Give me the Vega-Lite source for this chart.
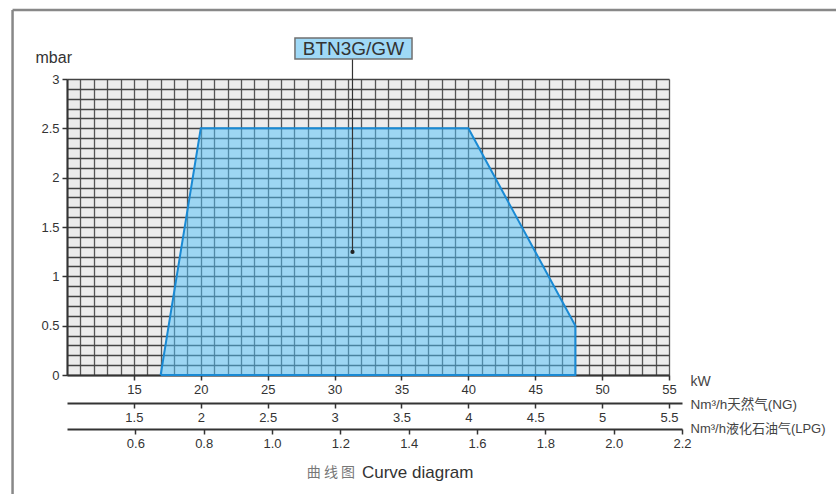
{
  "$schema": "https://vega.github.io/schema/vega-lite/v6.json",
  "width": 602,
  "height": 296,
  "autosize": "none",
  "padding": {"left": 67, "top": 79, "right": 167, "bottom": 119},
  "background": "white",
  "config": {
    "view": {"fill": "#ececec", "stroke": null},
    "font": "Liberation Sans, Noto Sans CJK SC"
  },
  "layer": [
    {
      "encoding": {
        "x": {
          "field": "kw", "type": "quantitative",
          "scale": {"domain": [10, 55], "nice": false, "zero": false},
          "axis": {
            "orient": "bottom",
            "values": [10,11,12,13,14,15,16,17,18,19,20,21,22,23,24,25,26,27,28,29,30,31,32,33,34,35,36,37,38,39,40,41,42,43,44,45,46,47,48,49,50,51,52,53,54,55],
            "grid": true,
            "gridColor": "#555555",
            "gridWidth": 1.3,
            "tickSize": {"condition": {"test": "datum.value % 5 === 0 && datum.value > 10", "value": 5}, "value": 0},
            "tickColor": "#333",
            "tickWidth": 1.5,
            "domainColor": "#333",
            "domainWidth": 2,
            "labelExpr": "datum.value % 5 === 0 && datum.value > 10 ? datum.label : ''",
            "format": "d",
            "labelFontSize": 13,
            "labelColor": "#333",
            "labelPadding": 3,
            "labelFlush": false,
            "labelOverlap": false,
            "title": "kW",
            "titleX": 623,
            "titleY": 6,
            "titleAlign": "left",
            "titleBaseline": "middle",
            "titleFontSize": 14,
            "titleFontWeight": "normal",
            "titleColor": "#444"
          }
        },
        "y": {
          "field": "mbar", "type": "quantitative",
          "scale": {"domain": [0, 3], "nice": false},
          "axis": {
            "values": [0,0.1,0.2,0.3,0.4,0.5,0.6,0.7,0.8,0.9,1,1.1,1.2,1.3,1.4,1.5,1.6,1.7,1.8,1.9,2,2.1,2.2,2.3,2.4,2.5,2.6,2.7,2.8,2.9,3],
            "grid": true,
            "gridColor": "#444444",
            "gridWidth": 1.3,
            "tickSize": {"condition": {"test": "abs(datum.value*2 - round(datum.value*2)) < 0.001", "value": 5}, "value": 0},
            "tickColor": "#333",
            "tickWidth": 1.5,
            "domainColor": "#333",
            "domainWidth": 2,
            "format": ".2~f",
            "labelExpr": "abs(datum.value*2 - round(datum.value*2)) < 0.001 ? datum.label : ''",
            "labelFontSize": 13,
            "labelColor": "#333",
            "labelPadding": 3,
            "labelFlush": false,
            "labelOverlap": false,
            "title": "mbar",
            "titleAngle": 0,
            "titleX": -32,
            "titleY": -22,
            "titleAlign": "left",
            "titleBaseline": "middle",
            "titleFontSize": 16,
            "titleFontWeight": "normal",
            "titleColor": "#333"
          }
        }
      },
      "layer": [
        {
          "data": {"values": [
            {"kw": 17, "mbar": 0},
            {"kw": 20, "mbar": 2.5},
            {"kw": 40, "mbar": 2.5},
            {"kw": 48, "mbar": 0.5}
          ]},
          "mark": {"type": "area", "color": "#4ec0fa", "opacity": 0.5},
          "encoding": {
            "y2": {"datum": 0}
          }
        },
        {
          "data": {"values": [
            {"kw": 17, "mbar": 0, "o": 1},
            {"kw": 20, "mbar": 2.5, "o": 2},
            {"kw": 40, "mbar": 2.5, "o": 3},
            {"kw": 48, "mbar": 0.5, "o": 4},
            {"kw": 48, "mbar": 0, "o": 5},
            {"kw": 17, "mbar": 0, "o": 6}
          ]},
          "mark": {"type": "line", "color": "#1a8ad4", "strokeWidth": 2},
          "encoding": {
            "order": {"field": "o", "type": "quantitative"}
          }
        },
        {
          "data": {"values": [
            {"kw": 31.34, "kw2": 31.34, "mbar": 3.203, "mbar2": 1.247}
          ]},
          "mark": {"type": "rule", "color": "#333", "strokeWidth": 1.2},
          "encoding": {
            "x2": {"field": "kw2"},
            "y2": {"field": "mbar2"}
          }
        },
        {
          "data": {"values": [
            {"kw": 31.34, "mbar": 1.247}
          ]},
          "mark": {"type": "point", "filled": true, "color": "#222", "size": 18, "opacity": 1},
          "encoding": {}
        },
        {
          "data": {"values": [
            {"kw": 27.04, "kw2": 35.79, "mbar": 3.415, "mbar2": 3.203}
          ]},
          "mark": {"type": "rect", "fill": "#9fd9f7", "stroke": "#707070", "strokeWidth": 1.5},
          "encoding": {
            "x2": {"field": "kw2"},
            "y2": {"field": "mbar2"}
          }
        },
        {
          "data": {"values": [
            {"kw": 31.41, "mbar": 3.309, "label": "BTN3G/GW"}
          ]},
          "mark": {"type": "text", "fontSize": 19, "color": "#333", "align": "center", "baseline": "middle", "font": "Liberation Sans"},
          "encoding": {
            "text": {"field": "label"}
          }
        },
        {
          "data": {"values": [
            {"kw": 5.93, "kw2": 5.93, "mbar": 3.7, "mbar2": -1.4},
            {"kw": 5.93, "kw2": 68, "mbar": 3.7, "mbar2": 3.7}
          ]},
          "mark": {"type": "rule", "color": "#888", "strokeWidth": 2.5},
          "encoding": {
            "x2": {"field": "kw2"},
            "y2": {"field": "mbar2"}
          }
        },
        {
          "data": {"values": [
            {"kw": 31.53, "mbar": -0.993, "label": "曲 线 图"}
          ]},
          "mark": {"type": "text", "fontSize": 14, "color": "#777", "align": "right", "baseline": "middle", "font": "Noto Sans CJK SC"},
          "encoding": {
            "text": {"field": "label"}
          }
        },
        {
          "data": {"values": [
            {"kw": 32.05, "mbar": -0.993, "label": "Curve diagram"}
          ]},
          "mark": {"type": "text", "fontSize": 17, "color": "#333", "align": "left", "baseline": "middle", "font": "Liberation Sans"},
          "encoding": {
            "text": {"field": "label"}
          }
        }
      ]
    },
    {
      "data": {"values": [{"ng": 1.5}]},
      "mark": {"type": "point", "opacity": 0},
      "encoding": {
        "x": {
          "field": "ng", "type": "quantitative",
          "scale": {"domain": [1, 5.597], "range": [0, 615], "nice": false, "zero": false},
          "axis": {
            "orient": "bottom",
            "offset": 28,
            "values": [1.5, 2, 2.5, 3, 3.5, 4, 4.5, 5, 5.5],
            "format": ".2~f",
            "grid": false,
            "tickSize": 5,
            "tickColor": "#333",
            "tickWidth": 1.5,
            "domainColor": "#333",
            "domainWidth": 2,
            "labelFontSize": 13,
            "labelColor": "#333",
            "labelPadding": 3,
            "labelFlush": false,
            "labelOverlap": false,
            "title": "Nm³/h天然气(NG)",
            "titleX": 623,
            "titleY": 1,
            "titleAlign": "left",
            "titleBaseline": "middle",
            "titleFontSize": 13.5,
            "titleFontWeight": "normal",
            "titleColor": "#444"
          }
        }
      }
    },
    {
      "data": {"values": [{"lpg": 1.0}]},
      "mark": {"type": "point", "opacity": 0},
      "encoding": {
        "x": {
          "field": "lpg", "type": "quantitative",
          "scale": {"domain": [0.4, 2.2], "range": [0, 615], "nice": false, "zero": false},
          "axis": {
            "orient": "bottom",
            "offset": 54,
            "values": [0.6, 0.8, 1.0, 1.2, 1.4, 1.6, 1.8, 2.0, 2.2],
            "format": ".1f",
            "grid": false,
            "tickSize": 5,
            "tickColor": "#333",
            "tickWidth": 1.5,
            "domainColor": "#333",
            "domainWidth": 2,
            "labelFontSize": 13,
            "labelColor": "#333",
            "labelPadding": 3,
            "labelFlush": false,
            "labelOverlap": false,
            "title": "Nm³/h液化石油气(LPG)",
            "titleX": 623,
            "titleY": -1,
            "titleAlign": "left",
            "titleBaseline": "middle",
            "titleFontSize": 13,
            "titleFontWeight": "normal",
            "titleColor": "#444"
          }
        }
      }
    }
  ],
  "resolve": {"scale": {"x": "independent"}}
}
